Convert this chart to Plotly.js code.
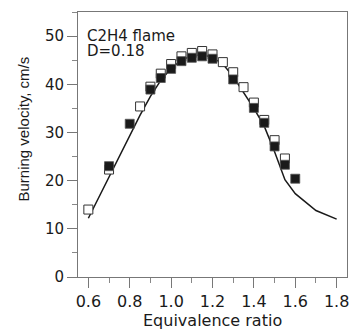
<!DOCTYPE html>
<html><head><meta charset="utf-8">
<script src="https://cdn.plot.ly/plotly-3.0.1.min.js"></script>
<style>html,body{margin:0;padding:0;background:#fff}#plot{width:349px;height:329px}</style>
</head><body><div id="plot"></div>
<script>
const lineX = [0.6,0.65,0.7,0.75,0.8,0.85,0.9,0.95,1.0,1.05,1.1,1.15,1.2,1.25,1.3,1.35,1.4,1.45,1.5,1.55,1.6,1.7,1.8];
const lineY = [12.2,16.5,20.8,25.1,29.4,33.6,37.5,40.8,43.3,45.0,45.9,46.1,45.6,44.2,41.6,38.4,35.0,31.3,26.0,20.2,17.3,13.8,12.0];
const openX = [0.6,0.7,0.85,0.9,0.95,1.0,1.05,1.1,1.15,1.2,1.25,1.3,1.35,1.4,1.45,1.5,1.55];
const openY = [14.0,22.3,35.4,39.5,42.2,44.2,45.8,46.5,46.9,46.2,44.6,42.5,39.4,36.2,32.6,28.4,24.6];
const fillX = [0.7,0.8,0.9,0.95,1.0,1.05,1.1,1.15,1.2,1.3,1.4,1.45,1.5,1.55,1.6];
const fillY = [23.0,31.8,38.9,41.3,43.2,44.8,45.5,45.8,45.3,41.0,35.1,32.0,27.1,23.3,20.4];
const xTicks = [0.6,0.8,1.0,1.2,1.4,1.6,1.8];
const xTickText = ['0.6','0.8','1.0','1.2','1.4','1.6','1.8'];
const yTicks = [0,10,20,30,40,50];
const labels = ['C2H4 flame','D=0.18'];
const xTitle = 'Equivalence ratio';
const yTitle = 'Burning velocity, cm/s';

const FW = 'DejaVu Sans, sans-serif';
const FA = 'Liberation Sans, Arial, sans-serif';
const traces = [
  {x: lineX, y: lineY, mode:'lines', line:{color:'#1a1a1a', width:1.5}, hoverinfo:'skip'},
  {x: openX, y: openY, mode:'markers', marker:{symbol:'square', size:9, color:'#ffffff', line:{color:'#333', width:1}}},
  {x: fillX, y: fillY, mode:'markers', marker:{symbol:'square', size:9, color:'#1a1a1a', line:{color:'#555', width:0.8}}}
];
const boxText = labels.map(s => '<span style="font-size:15px">' + s + '</span>').join('<br>');
const layout = {
  width:349, height:329, showlegend:false,
  margin:{l:78, r:2, t:12, b:52},
  paper_bgcolor:'#fff', plot_bgcolor:'#fff',
  font:{family:FW, size:15, color:'#1a1a1a'},
  xaxis:{range:[0.55,1.85], tickvals:xTicks, ticktext:xTickText, ticks:'outside', ticklen:10, tickcolor:'#777', tickwidth:1,
    minor:{dtick:0.1, ticks:'outside', ticklen:5, tickcolor:'#888'}, ticklabeloverflow:'allow',
    showgrid:false, zeroline:false, showline:true, linecolor:'#777', linewidth:1, mirror:true,
    tickfont:{family:FW, size:16}},
  yaxis:{range:[0,55], tickvals:yTicks, ticks:'outside', ticklen:10, tickcolor:'#777', tickwidth:1,
    minor:{dtick:5, ticks:'outside', ticklen:5, tickcolor:'#888'},
    showgrid:false, zeroline:false, showline:true, linecolor:'#777', linewidth:1, mirror:true,
    tickfont:{family:FW, size:15}},
  annotations:[
    {xref:'paper', yref:'paper', x:(86-78)/269, y:(277-26)/265, xanchor:'left', yanchor:'top', align:'left', text:boxText, showarrow:false, font:{family:FW, size:11.8}, borderpad:0},
    {xref:'paper', yref:'paper', x:0.5, y:-(331-277)/265, xanchor:'center', yanchor:'bottom', text:xTitle, showarrow:false, font:{family:FW, size:16}, borderpad:0},
    {xref:'paper', yref:'paper', x:(23-78)/269, y:(277-129.5)/265, xanchor:'center', yanchor:'middle', textangle:-90, text:yTitle, showarrow:false, font:{family:FA, size:15}, borderpad:0}
  ]
};
Plotly.newPlot('plot', traces, layout, {staticPlot:true, displayModeBar:false});
</script></body></html>
